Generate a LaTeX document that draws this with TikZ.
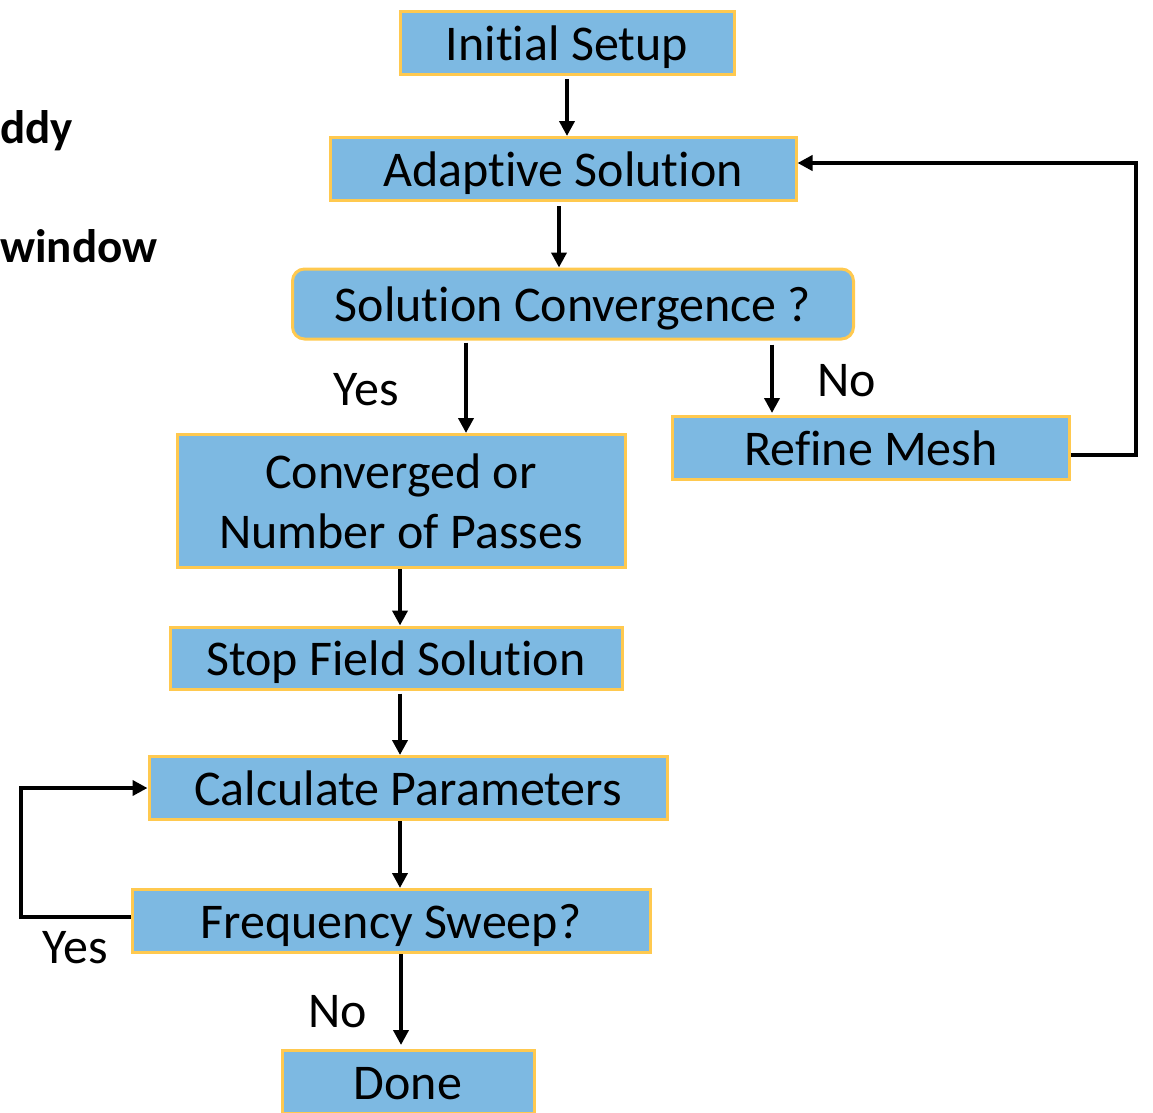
\documentclass[tikz,border=0pt]{standalone}
\usepackage{fontspec}
\setmainfont{Carlito}[Ligatures=NoCommon]
\usetikzlibrary{arrows.meta}
\definecolor{boxblue}{HTML}{7DB9E2}
\definecolor{boxedge}{HTML}{FFC94F}
\tikzset{
  stepbox/.style={draw=boxedge,fill=boxblue,line width=3pt,inner sep=0pt,align=center,
    font=\fontsize{50}{60}\selectfont},
  onerow/.style={text height=44pt,text depth=10pt},
  lbl/.style={inner sep=0pt,font=\fontsize{50}{60}\selectfont},
  cut/.style={inner sep=0pt,font=\fontsize{47}{56}\selectfont\bfseries},
  arr/.style={->,line width=4pt},
}
\begin{document}
\begin{tikzpicture}[x=1pt,y=-1pt,>={Triangle[length=15pt,width=15pt]},line join=miter]
\useasboundingbox (0,0) rectangle (1153,1112);
%%
\node (cut_1) at (0,131) [cut,anchor=west] {ddy};
\node (cut_2) at (0,246) [cut,anchor=west] {window};
%%
\node (node_0) at (567,43) [stepbox,onerow,minimum width=334pt,minimum height=63pt] {Initial Setup};
\node (node_1) at (563,169) [stepbox,onerow,minimum width=466pt,minimum height=63pt] {Adaptive Solution};
\node (node_2) at (573,304) [stepbox,onerow,rounded corners=12pt,minimum width=561pt,minimum height=70pt] {Solution Convergence ?};
\node (node_3) at (871,448) [stepbox,onerow,minimum width=397pt,minimum height=63pt] {Refine Mesh};
\node (node_4) at (401,501) [stepbox,minimum width=448pt,minimum height=133pt] {Converged or\\Number of Passes};
\node (node_5) at (396,658) [stepbox,onerow,minimum width=452pt,minimum height=62pt] {Stop Field Solution};
\node (node_6) at (408,788) [stepbox,onerow,minimum width=518pt,minimum height=63pt] {Calculate Parameters};
\node (node_7) at (391,921) [stepbox,onerow,minimum width=518pt,minimum height=63pt] {Frequency Sweep?};
\node (node_8) at (408,1082) [stepbox,onerow,minimum width=252pt,minimum height=63pt] {Done};
%%
\node (lbl_0) at (366,390) [lbl] {Yes};
\node (lbl_1) at (847,381) [lbl] {No};
\node (lbl_2) at (75,948) [lbl] {Yes};
\node (lbl_3) at (338,1012) [lbl] {No};
%%
\draw [arr,shorten <=3pt] (node_0.south -| 567,0) -- (node_1.north -| 567,0);
\draw [arr,shorten <=4pt] (node_1.south -| 559,0) -- (node_2.north -| 559,0);
\draw [arr,shorten <=2pt] (node_2.south -| 466,0) -- (node_4.north -| 466,0);
\draw [arr,shorten <=4pt,shorten >=2pt] (node_2.south -| 772,0) -- (node_3.north -| 772,0);
\draw [arr] (node_3.east |- 0,455) -- (1136,455) |- (node_1.east |- 0,163);
\draw [arr] (node_4.south -| 400,0) -- (node_5.north -| 400,0);
\draw [arr,shorten <=3pt] (node_5.south -| 400,0) -- (node_6.north -| 400,0);
\draw [arr] (node_6.south -| 400,0) -- (node_7.north -| 400,0);
\draw [arr] (node_7.west |- 0,917) -- (21,917) |- (node_6.west);
\draw [arr,shorten >=4pt] (node_7.south -| 401,0) -- (node_8.north -| 401,0);
%
\end{tikzpicture}
\end{document}
